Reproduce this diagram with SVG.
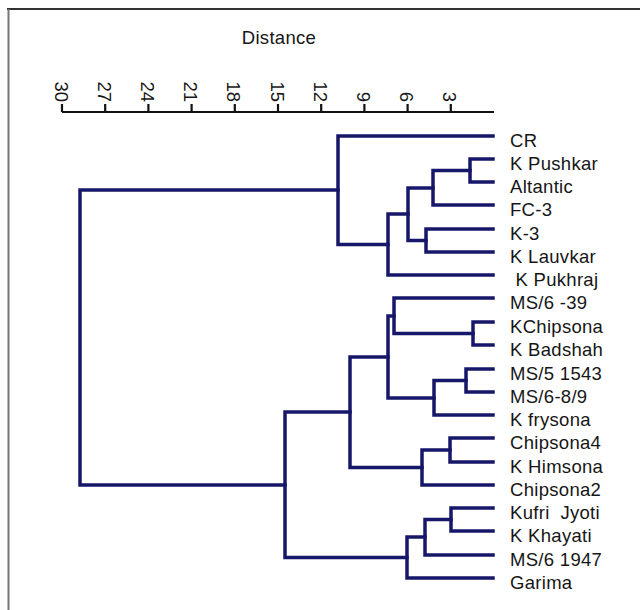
<svg xmlns="http://www.w3.org/2000/svg" width="640" height="610" viewBox="0 0 640 610">
<style>
.lbl{font-family:"Liberation Sans",Arial,sans-serif;font-size:18.5px;fill:#161616;letter-spacing:0.3px}
.tick{font-family:"Liberation Sans",Arial,sans-serif;font-size:18.5px;fill:#161616;text-anchor:end}
.br{fill:none;stroke:#17176a;stroke-width:3.5;stroke-linejoin:miter;stroke-linecap:square}
.ax{stroke:#111;stroke-width:2.2;fill:none}
</style>
<rect x="0" y="0" width="640" height="610" fill="#fff"/>
<g id="frame">
<line x1="7" y1="9" x2="640" y2="9" stroke="#333" stroke-width="2"/>
<line x1="8.5" y1="9" x2="8.5" y2="610" stroke="#777" stroke-width="2"/>
</g>
<g id="axis">
<text x="279" y="44" font-family="Liberation Sans,Arial,sans-serif" font-size="18.5" fill="#161616" text-anchor="middle" letter-spacing="0.3">Distance</text>
<path class="ax" d="M62,112 H494 M62,104 V112 M105.2,104 V112 M148.4,104 V112 M191.6,104 V112 M234.8,104 V112 M278,104 V112 M321.2,104 V112 M364.4,104 V112 M407.6,104 V112 M450.8,104 V112"/>
<text class="tick" transform="translate(54.5,102) rotate(90)">30</text>
<text class="tick" transform="translate(97.7,102) rotate(90)">27</text>
<text class="tick" transform="translate(140.9,102) rotate(90)">24</text>
<text class="tick" transform="translate(184.1,102) rotate(90)">21</text>
<text class="tick" transform="translate(227.3,102) rotate(90)">18</text>
<text class="tick" transform="translate(270.5,102) rotate(90)">15</text>
<text class="tick" transform="translate(313.7,102) rotate(90)">12</text>
<text class="tick" transform="translate(356.9,102) rotate(90)">9</text>
<text class="tick" transform="translate(400.1,102) rotate(90)">6</text>
<text class="tick" transform="translate(443.3,102) rotate(90)">3</text>
</g>
<g id="connectors" class="br">
<path class="br" d="M493,159 H470 V182 H493"/>
<path class="br" d="M470,170.5 H433 V205 H493"/>
<path class="br" d="M493,229 H426 V252 H493"/>
<path class="br" d="M433,188 H408 V240.5 H426"/>
<path class="br" d="M408,214 H388 V275 H493"/>
<path class="br" d="M493,136 H338 V244.5 H388"/>
<path class="br" d="M493,322 H473 V345 H493"/>
<path class="br" d="M493,298 H394 V333.5 H473"/>
<path class="br" d="M493,369 H466 V392 H493"/>
<path class="br" d="M466,380.5 H434 V415 H493"/>
<path class="br" d="M394,316 H388 V398 H434"/>
<path class="br" d="M493,438 H450 V462 H493"/>
<path class="br" d="M450,450 H422 V485 H493"/>
<path class="br" d="M388,357 H350 V467.5 H422"/>
<path class="br" d="M493,508 H451 V531 H493"/>
<path class="br" d="M451,519.5 H425 V555 H493"/>
<path class="br" d="M425,537 H407 V578 H493"/>
<path class="br" d="M350,412 H285 V557.5 H407"/>
<path class="br" d="M338,190 H80 V485 H285"/>
</g>
<g id="leaf-CR"><text class="lbl" x="510" y="147">CR</text></g>
<g id="leaf-KPushkar"><text class="lbl" x="510" y="170">K Pushkar</text></g>
<g id="leaf-Altantic"><text class="lbl" x="510" y="193">Altantic</text></g>
<g id="leaf-FC3"><text class="lbl" x="510" y="216">FC-3</text></g>
<g id="leaf-K3"><text class="lbl" x="510" y="240">K-3</text></g>
<g id="leaf-KLauvkar"><text class="lbl" x="510" y="263">K Lauvkar</text></g>
<g id="leaf-KPukhraj"><text class="lbl" x="510" y="286" xml:space="preserve"> K Pukhraj</text></g>
<g id="leaf-MS6-39"><text class="lbl" x="510" y="309">MS/6 -39</text></g>
<g id="leaf-KChipsona"><text class="lbl" x="510" y="333">KChipsona</text></g>
<g id="leaf-KBadshah"><text class="lbl" x="510" y="356">K Badshah</text></g>
<g id="leaf-MS5-1543"><text class="lbl" x="510" y="380">MS/5 1543</text></g>
<g id="leaf-MS6-89"><text class="lbl" x="510" y="403">MS/6-8/9</text></g>
<g id="leaf-Kfrysona"><text class="lbl" x="510" y="426">K frysona</text></g>
<g id="leaf-Chipsona4"><text class="lbl" x="510" y="449">Chipsona4</text></g>
<g id="leaf-KHimsona"><text class="lbl" x="510" y="473">K Himsona</text></g>
<g id="leaf-Chipsona2"><text class="lbl" x="510" y="496">Chipsona2</text></g>
<g id="leaf-KufriJyoti"><text class="lbl" x="510" y="519" xml:space="preserve">Kufri  Jyoti</text></g>
<g id="leaf-KKhayati"><text class="lbl" x="510" y="542">K Khayati</text></g>
<g id="leaf-MS6-1947"><text class="lbl" x="510" y="566">MS/6 1947</text></g>
<g id="leaf-Garima"><text class="lbl" x="510" y="589">Garima</text></g>
</svg>
